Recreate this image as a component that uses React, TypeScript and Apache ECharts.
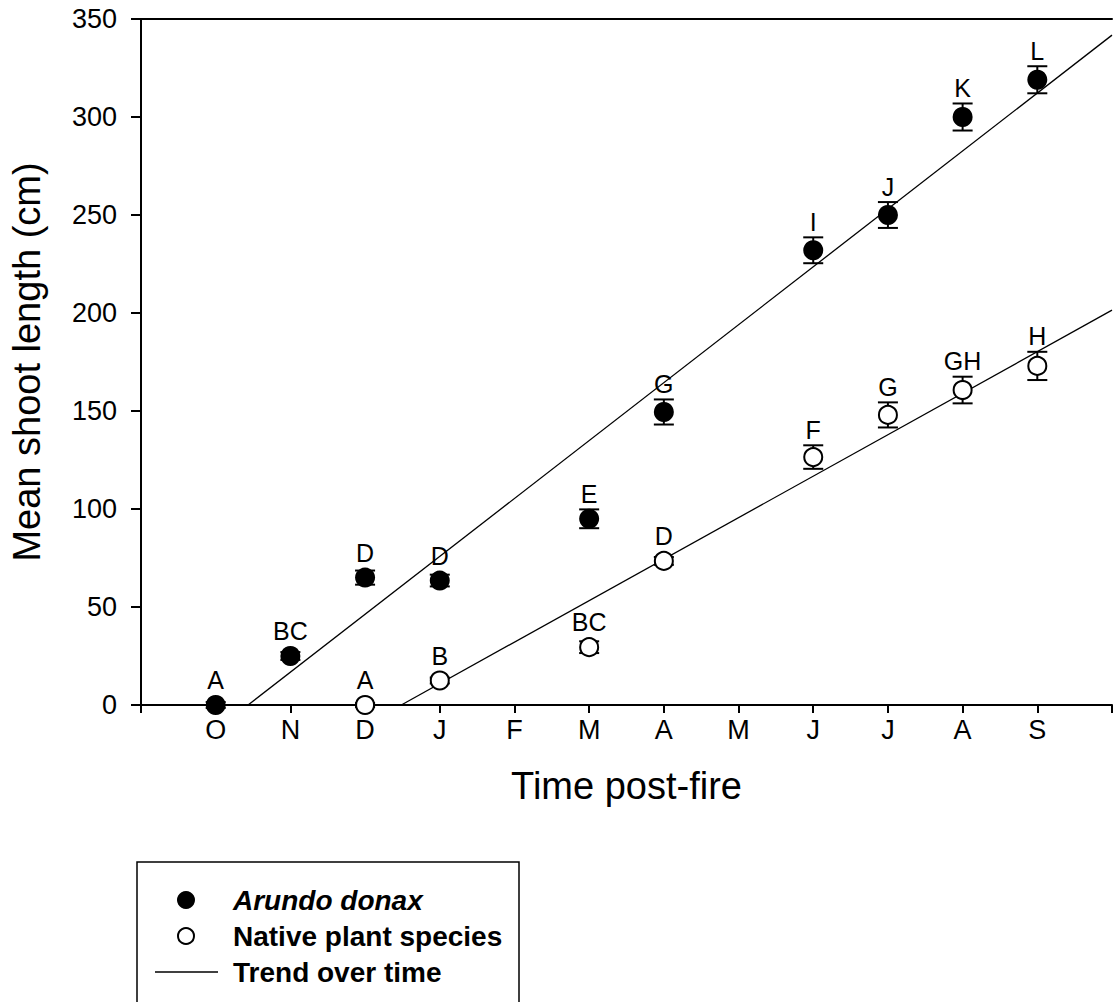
import React, { useEffect, useRef } from "react";
import * as echarts from "echarts";

// ---- data ----
const monthLabels = ["O", "N", "D", "J", "F", "M", "A", "M", "J", "J", "A", "S"];
const yTicks = [0, 50, 100, 150, 200, 250, 300, 350];

const arundoX = [1, 2, 3, 4, 6, 7, 9, 10, 11, 12];
const arundoMean = [0, 25, 65, 63.5, 95, 149.5, 232, 250, 300, 319];
const arundoSE = [1.5, 2, 3.6, 3, 4.8, 6.4, 6.6, 6.6, 6.9, 6.9];
const arundoLetters = ["A", "BC", "D", "D", "E", "G", "I", "J", "K", "L"];

const nativeX = [3, 4, 6, 7, 9, 10, 11, 12];
const nativeMean = [0, 12.5, 29.5, 73.5, 126.5, 148, 160.7, 173];
const nativeSE = [1, 1.5, 3, 2, 6, 6.4, 6.8, 7.2];
const nativeLetters = ["A", "B", "BC", "D", "F", "G", "GH", "H"];

// regression trend lines: y = slope * (x - xIntercept)
const arundoTrend = { slope: 29.55, xIntercept: 1.434 };
const nativeTrend = { slope: 21.17, xIntercept: 3.485 };

const legendNames = ["Arundo donax", "Native plant species", "Trend over time"];

const FONT = "'Liberation Sans', Arial, Helvetica, sans-serif";
const X_MAX = 13;

function trendPoints(t: { slope: number; xIntercept: number }) {
  return [
    [t.xIntercept, 0],
    [X_MAX, t.slope * (X_MAX - t.xIntercept)],
  ];
}

function errData(xs: number[], means: number[], se: number[]) {
  return xs.map((x, i) => [x, means[i], se[i]]);
}

function makeRenderErr(letters: string[]) {
  return function renderErr(params: any, api: any) {
    const x = api.value(0);
    const v = api.value(1);
    const e = api.value(2);
    const letter = letters[params.dataIndex] || "";
    const pT = api.coord([x, v + e]);
    const pB = api.coord([x, v - e]);
    const pC = api.coord([x, v]);
    const half = 10;
    const st = { stroke: "#000", lineWidth: 2 };
    const labelY = Math.min(pT[1], pC[1] - 9.5) - 3;
    return {
      type: "group",
      children: [
        { type: "line", shape: { x1: pT[0], y1: pT[1], x2: pB[0], y2: pB[1] }, style: st },
        { type: "line", shape: { x1: pT[0] - half, y1: pT[1], x2: pT[0] + half, y2: pT[1] }, style: st },
        { type: "line", shape: { x1: pB[0] - half, y1: pB[1], x2: pB[0] + half, y2: pB[1] }, style: st },
        {
          type: "text",
          style: {
            x: pC[0],
            y: labelY,
            text: letter,
            fill: "#000",
            font: `25px ${FONT}`,
            textAlign: "center",
            textVerticalAlign: "bottom",
          },
        },
      ],
    };
  };
}

export default function App() {
  const ref = useRef<HTMLDivElement>(null);
  useEffect(() => {
    if (!ref.current) return;
    const chart = echarts.init(ref.current, null, { renderer: "svg" });
    const axisLineStyle = { color: "#000", width: 2 };
    const option: any = {
      animation: false,
      backgroundColor: "#fff",
      grid: { left: 141, top: 19, right: -5, bottom: 297, containLabel: false },
      xAxis: [
        {
          type: "value",
          min: 0,
          max: X_MAX,
          interval: 1,
          name: "Time post-fire",
          nameLocation: "middle",
          nameGap: 62,
          nameTextStyle: { fontSize: 38, fontFamily: FONT, color: "#000" },
          axisLine: { show: true, onZero: false, lineStyle: axisLineStyle },
          axisTick: { show: true, inside: false, length: 8, lineStyle: axisLineStyle },
          axisLabel: {
            margin: 11,
            fontSize: 27,
            fontFamily: FONT,
            color: "#000",
            formatter: (v: number) => (v >= 1 && v <= 12 && Number.isInteger(v) ? monthLabels[v - 1] : ""),
          },
          splitLine: { show: false },
        },
        {
          type: "value",
          position: "top",
          min: 0,
          max: X_MAX,
          interval: 1,
          axisLine: { show: true, onZero: false, lineStyle: axisLineStyle },
          axisTick: { show: false },
          axisLabel: { show: false },
          splitLine: { show: false },
        },
      ],
      yAxis: {
        type: "value",
        min: yTicks[0],
        max: yTicks[yTicks.length - 1],
        interval: 50,
        name: "Mean shoot length (cm)",
        nameLocation: "middle",
        nameGap: 95,
        nameTextStyle: { fontSize: 38, fontFamily: FONT, color: "#000" },
        axisLine: { show: true, onZero: false, lineStyle: axisLineStyle },
        axisTick: { show: true, inside: false, length: 10, lineStyle: axisLineStyle },
        axisLabel: { margin: 24, fontSize: 27, fontFamily: FONT, color: "#000" },
        splitLine: { show: false },
      },
      series: [
        {
          name: "Trend A",
          type: "line",
          data: trendPoints(arundoTrend),
          symbol: "none",
          lineStyle: { color: "#000", width: 1.3 },
          z: 2,
        },
        {
          name: "Trend N",
          type: "line",
          data: trendPoints(nativeTrend),
          symbol: "none",
          lineStyle: { color: "#000", width: 1.3 },
          z: 2,
        },
        {
          name: "Arundo err",
          type: "custom",
          renderItem: makeRenderErr(arundoLetters),
          data: errData(arundoX, arundoMean, arundoSE),
          encode: { x: 0, y: 1 },
          clip: false,
          z: 3,
        },
        {
          name: "Native err",
          type: "custom",
          renderItem: makeRenderErr(nativeLetters),
          data: errData(nativeX, nativeMean, nativeSE),
          encode: { x: 0, y: 1 },
          clip: false,
          z: 3,
        },
        {
          name: legendNames[0],
          type: "scatter",
          data: arundoX.map((x, i) => [x, arundoMean[i]]),
          symbol: "circle",
          symbolSize: 20,
          itemStyle: { color: "#000", opacity: 1 },
          z: 5,
        },
        {
          name: legendNames[1],
          type: "scatter",
          data: nativeX.map((x, i) => [x, nativeMean[i]]),
          symbol: "circle",
          symbolSize: 18,
          itemStyle: { color: "#fff", borderColor: "#000", borderWidth: 2, opacity: 1 },
          z: 5,
        },
      ],
      graphic: [
        {
          type: "rect",
          shape: { x: 137, y: 862, width: 382, height: 200 },
          style: { fill: "none", stroke: "#000", lineWidth: 1.5 },
        },
        { type: "circle", shape: { cx: 186, cy: 900, r: 9 }, style: { fill: "#000" } },
        {
          type: "text",
          x: 233,
          y: 900,
          style: {
            text: legendNames[0],
            font: `italic bold 28px ${FONT}`,
            fill: "#000",
            textVerticalAlign: "middle",
          },
        },
        {
          type: "circle",
          shape: { cx: 186, cy: 936, r: 8 },
          style: { fill: "#fff", stroke: "#000", lineWidth: 2 },
        },
        {
          type: "text",
          x: 233,
          y: 936,
          style: {
            text: legendNames[1],
            font: `bold 28px ${FONT}`,
            fill: "#000",
            textVerticalAlign: "middle",
          },
        },
        {
          type: "line",
          shape: { x1: 155, y1: 972, x2: 218, y2: 972 },
          style: { stroke: "#000", lineWidth: 1.3 },
        },
        {
          type: "text",
          x: 233,
          y: 972,
          style: {
            text: legendNames[2],
            font: `bold 28px ${FONT}`,
            fill: "#000",
            textVerticalAlign: "middle",
          },
        },
      ],
    };
    chart.setOption(option);
    return () => chart.dispose();
  }, []);
  return (
    <div
      ref={ref}
      style={{ position: "fixed", left: 0, top: 0, width: 1115, height: 1002, background: "#fff" }}
    />
  );
}
